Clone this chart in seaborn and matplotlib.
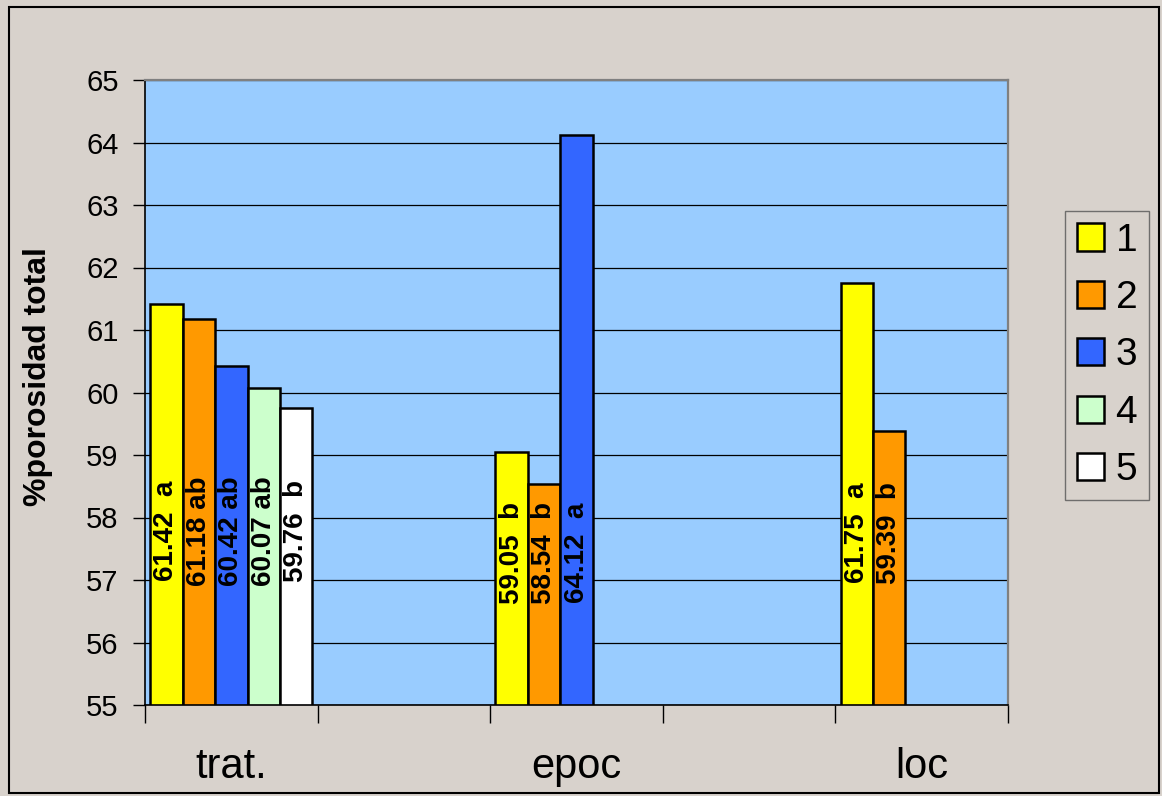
import numpy as np
import pandas as pd
import matplotlib
matplotlib.use("Agg")
import matplotlib.pyplot as plt
from matplotlib.patches import Patch, Rectangle
import seaborn as sns

# Total porosity by factor level
groups = ["trat.", "trat.", "trat.", "trat.", "trat.",
          "epoc", "epoc", "epoc",
          "loc", "loc"]
levels = ["1", "2", "3", "4", "5",
          "1", "2", "3",
          "1", "2"]
porosity = [61.42, 61.18, 60.42, 60.07, 59.76,
            59.05, 58.54, 64.12,
            61.75, 59.39]
letters = ["a", "ab", "ab", "ab", "b",
           "b", "b", "a",
           "a", "b"]

category_order = ["trat.", "_gap1", "epoc", "_gap2", "loc"]
category_labels = ["trat.", "", "epoc", "", "loc"]
level_order = ["1", "2", "3", "4", "5"]
level_colors = ["#FFFF00", "#FF9900", "#3366FF", "#CCFFCC", "#FFFFFF"]

df = pd.DataFrame({"grupo": groups, "nivel": levels,
                   "porosidad": porosity, "letra": letters})

plt.rcParams["font.family"] = ["Liberation Sans", "DejaVu Sans"]

W, H = 1162, 796
fig = plt.figure(figsize=(W / 100, H / 100), dpi=100)
fig.patch.set_facecolor("#D8D2CC")
ax = fig.add_axes([145 / W, 91 / H, 863 / W, 625 / H])
ax.set_facecolor("#99CCFF")

sns.barplot(data=df, x="grupo", y="porosidad", hue="nivel",
            order=category_order, hue_order=level_order,
            palette=dict(zip(level_order, level_colors)),
            width=0.94, gap=0, edgecolor="black", linewidth=1.8,
            saturation=1, errorbar=None, legend=False, ax=ax)

ax.set_ylim(55, 65)
ax.set_xlim(-0.5, 4.5)
ax.set_yticks(range(55, 66))
ax.yaxis.grid(True, color="black", linewidth=0.9)
ax.xaxis.grid(False)
ax.set_axisbelow(True)

ax.set_xticks(range(len(category_order)))
ax.set_xticklabels(category_labels)
ax.set_xticks(np.arange(-0.5, len(category_order), 1.0), minor=True)
ax.tick_params(axis="x", which="major", length=0, pad=30, labelsize=30)
ax.tick_params(axis="x", which="minor", length=13, width=1.0, color="black")
ax.tick_params(axis="y", length=9, width=1.0, color="black", pad=10,
               labelsize=21)
ax.set_xlabel("")
ax.set_ylabel("%porosidad total", fontsize=23, fontweight="bold",
              va="center")
ax.yaxis.set_label_coords(-0.124, 0.525)

for side in ("left", "bottom"):
    ax.spines[side].set_color("black")
    ax.spines[side].set_linewidth(1.2)
for side in ("top", "right"):
    ax.spines[side].set_color("#808080")
    ax.spines[side].set_linewidth(1.6)

# value + significance letter written vertically inside each bar
label_height = {0: 57.78, 2: 57.43, 4: 57.75}
for bar in ax.patches:
    h = bar.get_height()
    if not np.isfinite(h) or h == 0:
        continue
    row = df.loc[np.isclose(df["porosidad"], h)].iloc[0]
    sep = "  " if len(row["letra"]) == 1 else " "
    xc = bar.get_x() + bar.get_width() / 2
    ax.text(xc, label_height[int(round(xc))],
            f"{row['porosidad']:.2f}{sep}{row['letra']}",
            rotation=90, ha="center", va="center",
            fontsize=20, fontweight="bold", color="black")

handles = [Patch(facecolor=c, edgecolor="black", linewidth=1.8)
           for c in level_colors]
leg = ax.legend(handles, level_order, loc="upper left",
                bbox_to_anchor=(1065 / W, 1 - 211 / H),
                bbox_transform=fig.transFigure,
                frameon=True, fancybox=False, edgecolor="#555555",
                facecolor="none", fontsize=28, handlelength=0.7,
                handleheight=0.7, handletextpad=0.3, labelspacing=0.55,
                borderpad=0.3, borderaxespad=0)
leg.get_frame().set_linewidth(1.0)

fig.add_artist(Rectangle((9 / W, 3 / H), 1150 / W, 786 / H,
                         transform=fig.transFigure, fill=False,
                         edgecolor="black", linewidth=1.5))

fig.savefig("out.png", dpi=100, facecolor=fig.get_facecolor())
